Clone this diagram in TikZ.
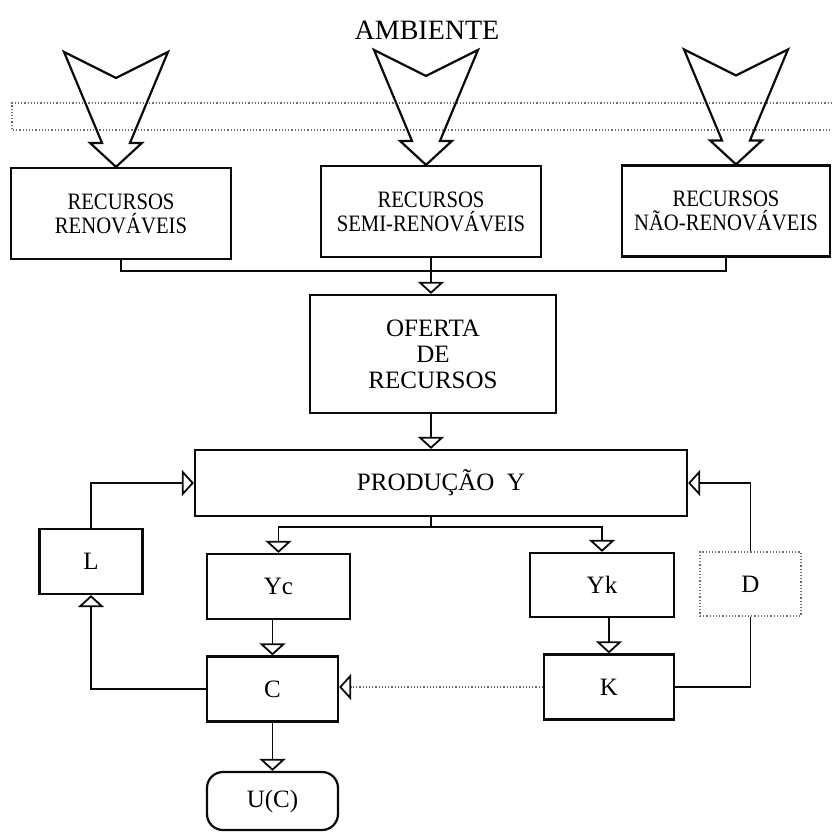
\documentclass[tikz,border=0pt]{standalone}
\usepackage{fontspec}
\setmainfont{Liberation Serif}
\newfontfamily\narrowserif[FakeStretch=0.88]{Liberation Serif}
\usepackage{xcolor}
\usepackage{tikz}
\usetikzlibrary{positioning,arrows.meta,calc}
\definecolor{inkblack}{RGB}{10,10,10}
\definecolor{dotgray}{RGB}{110,110,110}
\tikzset{
  resource-node/.style={draw=inkblack, line width=2.2pt, minimum width=220pt,
    minimum height=91pt, inner sep=0pt, align=center,
    font=\narrowserif\fontsize{23.5}{24}\selectfont},
  block-node/.style={draw=inkblack, line width=2.2pt, inner sep=0pt,
    align=center, font=\fontsize{25}{26}\selectfont},
  ghost-node/.style={draw=dotgray, dotted, line width=1.2pt, inner sep=0pt,
    align=center, font=\fontsize{25}{26}\selectfont},
  flow-line/.style={line width=1.8pt, draw=inkblack},
  flow-arrow/.style={-{Triangle[open, length=12pt, width=26pt, line width=1.8pt, color=inkblack]},
    line width=1.8pt, draw=inkblack},
  dotted-arrow/.style={flow-arrow, draw=dotgray, line width=1.2pt, dotted},
  big-arrow/.pic={
    \draw[line width=2.2pt, draw=inkblack, line join=miter]
      (-52,-115) -- (0,-89) -- (52,-115) -- (14,-24) -- (26,-24) -- (0,0)
      -- (-26,-24) -- (-14,-24) -- cycle;
  }
}

\begin{document}
\begin{tikzpicture}[x=1pt, y=-1pt]
\useasboundingbox (0,0) rectangle (832,833);

\node[font=\fontsize{28}{30}\selectfont] (ambiente) at (427,30) {AMBIENTE};

% band and inflows
\draw[dotgray, dotted, line width=1.2pt] (832,103) -- (12,103) -- (12,130) -- (832,130);

\node[resource-node] (renov) at (121,213.5) {RECURSOS\\RENOVÁVEIS};
\node[resource-node] (semi) at (431,211.5) {RECURSOS\\SEMI-RENOVÁVEIS};
\node[resource-node, minimum width=208pt] (nao) at (726,211) {RECURSOS\\NÃO-RENOVÁVEIS};

\pic at ($(renov.north)+(-5,0)$) {big-arrow};
\pic at ($(semi.north)+(-5,0)$) {big-arrow};
\pic at ($(nao.north)+(10,0)$) {big-arrow};

\node[block-node, minimum width=246pt, minimum height=118pt] (oferta) at (433,354)
  {OFERTA\\DE\\RECURSOS};
\node[block-node, minimum width=492pt, minimum height=66pt] (prod) at (441,483)
  {PRODUÇÃO\ \ Y};

\node[block-node, minimum width=103pt, minimum height=65pt] (L) at (91,561.5) {L};
\node[block-node, minimum width=143pt, minimum height=65pt] (yc) at (278.5,586.5) {Yc};
\node[block-node, minimum width=144pt, minimum height=64pt] (yk) at (602,585) {Yk};
\node[ghost-node, minimum width=101pt, minimum height=64pt] (D) at (750.5,584) {D};
\node[block-node, minimum width=131pt, minimum height=65pt] (C) at (272.5,689) {C};
\node[block-node, minimum width=130pt, minimum height=65pt] (K) at (609,687) {K};
\node[block-node, rounded corners=16pt, minimum width=131pt, minimum height=58pt]
  (U) at (272.5,801) {U(C)};

% resources to supply
\coordinate (bus) at (431,271);
\draw[flow-line] (renov.south) |- (bus) -| (nao.south);
\draw[flow-arrow] (semi.south) -- (semi.south |- oferta.north);
\draw[flow-arrow] (oferta.south -| semi.south) -- (semi.south |- prod.north);

% production split
\coordinate (split) at (431,527);
\draw[flow-line] (semi.south |- prod.south) -- (split);
\draw[flow-arrow] (split) -| (yc.north);
\draw[flow-arrow] (split) -| (yk.north);
\draw[flow-arrow] (C.north |- yc.south) -- (C.north);
\draw[flow-arrow] (K.north |- yk.south) -- (K.north);

% feedbacks
\draw[flow-arrow] (L.north) |- (prod.west);
\draw[flow-arrow] (D.north) |- (prod.east);
\draw[flow-arrow] (C.west) -| (L.south);
\draw[dotted-arrow] (K.west) -- (K.west -| C.east);
\draw[flow-line] (K.east) -| (D.south);
\draw[flow-arrow] (C.south) -- (U.north);
\end{tikzpicture}
\end{document}
